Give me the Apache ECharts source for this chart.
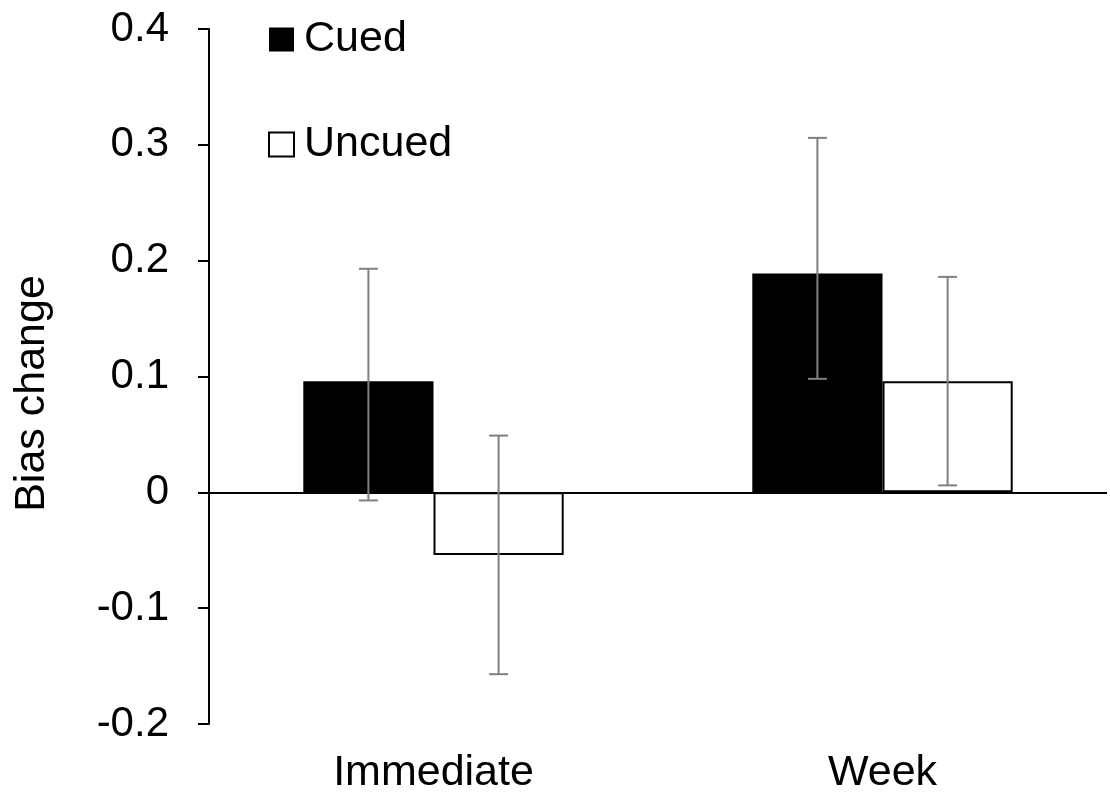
<!DOCTYPE html>
<html>
<head>
<meta charset="utf-8">
<script src="https://cdn.jsdelivr.net/npm/echarts@6/dist/echarts.min.js"></script>
<style>html,body{margin:0;padding:0;background:#fff;}#c{width:1110px;height:795px;}</style>
</head>
<body>
<div id="c"></div>
<script>
const categories = ['Immediate', 'Week'];
const cuedMean = [0.096, 0.189];
const uncuedMean = [-0.054, 0.096];
const cuedLow = [-0.007, 0.098];
const cuedHigh = [0.193, 0.306];
const uncuedLow = [-0.157, 0.006];
const uncuedHigh = [0.049, 0.186];
const yMin = -0.2, yMax = 0.4, yStep = 0.1;

const FONT = 'Liberation Sans, Arial, sans-serif';
const BAR_FRAC = 0.29;

const errData = [];
categories.forEach((c, i) => {
  errData.push([i, cuedLow[i], cuedHigh[i], -1]);
  errData.push([i, uncuedLow[i], uncuedHigh[i], 1]);
});

const chart = echarts.init(document.getElementById('c'));
chart.setOption({
  animation: false,
  backgroundColor: '#fff',
  grid: { left: 209, right: 3, top: 29, bottom: 70.7, containLabel: false },
  legend: {
    data: ['Cued', 'Uncued'],
    orient: 'vertical',
    left: 268, top: 18,
    padding: 0,
    itemWidth: 25, itemHeight: 24, itemGap: 62,
    icon: 'rect',
    textStyle: { fontSize: 43, lineHeight: 43, color: '#000', fontFamily: FONT, padding: [0, 0, 0, 5] },
    selectedMode: false
  },
  xAxis: {
    type: 'category',
    data: categories,
    axisLine: { show: false, onZero: false },
    axisTick: { show: false },
    axisLabel: { fontSize: 43, lineHeight: 43, color: '#000', fontFamily: FONT, margin: 28 },
    splitLine: { show: false }
  },
  yAxis: {
    type: 'value',
    min: yMin, max: yMax, interval: yStep,
    axisLine: { show: true, lineStyle: { color: '#000', width: 2 } },
    axisTick: { show: true, length: 11, inside: false, lineStyle: { color: '#000', width: 2 } },
    axisLabel: {
      fontSize: 42, color: '#000', fontFamily: FONT, margin: 40,
      formatter: v => Math.abs(v) < 1e-9 ? '0' : v.toFixed(1)
    },
    splitLine: { show: false }
  },
  graphic: [{
    type: 'text',
    x: 32.5, y: 393.5,
    rotation: Math.PI / 2,
    style: { text: 'Bias change', font: '43px ' + FONT, fill: '#000', textAlign: 'center', textVerticalAlign: 'middle' }
  }],
  series: [
    {
      name: 'Cued', type: 'bar', data: cuedMean,
      barWidth: (BAR_FRAC * 100) + '%', barGap: '0%',
      itemStyle: { color: '#000', borderColor: '#000', borderWidth: 0 },
      markLine: {
        silent: true, symbol: 'none', label: { show: false },
        lineStyle: { color: '#000', width: 2, type: 'solid' },
        data: [{ yAxis: 0 }]
      },
      z: 2
    },
    {
      name: 'Uncued', type: 'bar', data: uncuedMean,
      barWidth: (BAR_FRAC * 100) + '%', barGap: '0%',
      itemStyle: { color: '#fff', borderColor: '#000', borderWidth: 2 },
      z: 2
    },
    {
      type: 'custom',
      data: errData,
      encode: { x: 0, y: [1, 2] },
      z: 5,
      silent: true,
      renderItem: function (params, api) {
        const idx = api.value(0);
        const sign = api.value(3);
        const base = api.coord([idx, 0]);
        const cw = api.size([1, 0])[0];
        const bw = cw * BAR_FRAC;
        const cx = base[0] + sign * bw / 2;
        const yl = api.coord([idx, api.value(1)])[1];
        const yh = api.coord([idx, api.value(2)])[1];
        const cap = 9.5;
        const st = { stroke: '#808080', lineWidth: 2 };
        return {
          type: 'group',
          children: [
            { type: 'line', shape: { x1: cx, y1: yl, x2: cx, y2: yh }, style: st },
            { type: 'line', shape: { x1: cx - cap, y1: yh, x2: cx + cap, y2: yh }, style: st },
            { type: 'line', shape: { x1: cx - cap, y1: yl, x2: cx + cap, y2: yl }, style: st }
          ]
        };
      }
    }
  ]
});
</script>
</body>
</html>
